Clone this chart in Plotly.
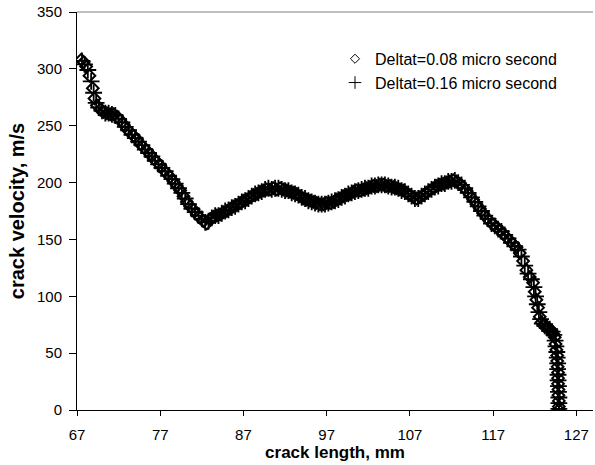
import plotly.graph_objects as go

# Series 1: Deltat = 0.08 micro second (open diamonds)
len_a = [67.5, 67.8, 68.1, 68.5, 68.9, 69.1, 69.4, 69.8, 70.2, 70.6, 71.0, 71.4, 71.8, 72.2, 72.6,
         73.0, 73.4, 73.8, 74.2, 74.6, 75.0, 75.4, 75.8, 76.2, 76.6, 77.0, 77.4, 77.8, 78.2, 78.6,
         79.0, 79.4, 79.8, 80.2, 80.6, 81.0, 81.4, 81.8, 82.2, 82.6, 83.0, 83.4, 83.8, 84.2, 84.6,
         85.0, 85.4, 85.8, 86.2, 86.6, 87.0, 87.4, 87.8, 88.2, 88.6, 89.0, 89.4, 89.8, 90.2, 90.6,
         91.0, 91.4, 91.8, 92.2, 92.6, 93.0, 93.4, 93.8, 94.2, 94.6, 95.0, 95.4, 95.8, 96.2, 96.6,
         97.0, 97.4, 97.8, 98.2, 98.6, 99.0, 99.4, 99.8, 100.2, 100.6, 101.0, 101.4, 101.8, 102.2, 102.6,
         103.0, 103.4, 103.8, 104.2, 104.6, 105.0, 105.4, 105.8, 106.2, 106.6, 107.0, 107.4, 107.8, 108.2, 108.6,
         109.0, 109.4, 109.8, 110.2, 110.6, 111.0, 111.4, 111.8, 112.2, 112.6, 113.0, 113.4, 113.8, 114.2, 114.6,
         115.0, 115.4, 115.8, 116.2, 116.6, 117.0, 117.4, 117.8, 118.2, 118.6, 119.0, 119.4, 119.8, 120.2, 120.6,
         121.0, 121.4, 121.8, 122.0, 122.2, 122.4, 122.6, 122.8, 123.1, 123.4, 123.7, 124.0, 124.2, 124.4, 124.5,
         124.6, 124.7, 124.7, 124.75, 124.8, 124.8, 124.8, 124.85, 124.85, 124.9, 124.9, 124.9]
vel_a = [308, 306, 302, 294, 283, 274, 268, 264, 262, 261, 260, 260, 258, 255, 251,
         247, 244, 241, 238, 234, 231, 228, 225, 221, 218, 215, 211, 208, 205, 201,
         197, 193, 188, 183, 179, 176, 172, 169, 166, 164, 168, 170, 171, 172, 174,
         175, 177, 179, 180, 182, 184, 185, 187, 189, 190, 192, 193, 194, 194, 195,
         194, 195, 194, 193, 192, 191, 190, 188, 186, 185, 184, 183, 182, 181, 181,
         182, 182, 183, 185, 186, 188, 189, 190, 192, 193, 193, 194, 195, 196, 197,
         197, 198, 198, 197, 197, 196, 195, 194, 193, 191, 189, 187, 186, 187, 189,
         191, 193, 195, 197, 198, 199, 200, 201, 202, 201, 199, 196, 193, 189, 185,
         181, 177, 173, 169, 166, 163, 161, 158, 155, 152, 149, 146, 143, 138, 131,
         123, 117, 112, 104, 97, 90, 82, 77, 74, 73, 72, 70, 67, 64, 58,
         53, 48, 43, 38, 33, 28, 23, 18, 13, 8, 3, 0]

# Series 2: Deltat = 0.16 micro second (plus signs)
len_b = [67.6, 67.9, 68.3, 68.7, 69.0, 69.3, 69.6, 70.0, 70.4, 70.8, 71.2, 71.6, 72.0, 72.4, 72.8,
         73.2, 73.6, 74.0, 74.4, 74.8, 75.2, 75.6, 76.0, 76.4, 76.8, 77.2, 77.6, 78.0, 78.4, 78.8,
         79.2, 79.6, 80.0, 80.4, 80.8, 81.2, 81.6, 82.0, 82.4, 82.8, 83.2, 83.6, 84.0, 84.4, 84.8,
         85.2, 85.6, 86.0, 86.4, 86.8, 87.2, 87.6, 88.0, 88.4, 88.8, 89.2, 89.6, 90.0, 90.4, 90.8,
         91.2, 91.6, 92.0, 92.4, 92.8, 93.2, 93.6, 94.0, 94.4, 94.8, 95.2, 95.6, 96.0, 96.4, 96.8,
         97.2, 97.6, 98.0, 98.4, 98.8, 99.2, 99.6, 100.0, 100.4, 100.8, 101.2, 101.6, 102.0, 102.4, 102.8,
         103.2, 103.6, 104.0, 104.4, 104.8, 105.2, 105.6, 106.0, 106.4, 106.8, 107.2, 107.6, 108.0, 108.4, 108.8,
         109.2, 109.6, 110.0, 110.4, 110.8, 111.2, 111.6, 112.0, 112.4, 112.8, 113.2, 113.6, 114.0, 114.4, 114.8,
         115.2, 115.6, 116.0, 116.4, 116.8, 117.2, 117.6, 118.0, 118.4, 118.8, 119.2, 119.6, 120.0, 120.4, 120.8,
         121.2, 121.6, 121.9, 122.1, 122.3, 122.5, 122.7, 122.9, 123.2, 123.5, 123.8, 124.1, 124.3, 124.45, 124.55,
         124.65, 124.7, 124.75, 124.75, 124.8, 124.8, 124.85, 124.85, 124.9, 124.9, 124.9]
vel_b = [307, 304, 299, 289, 279, 270, 266, 263, 261, 261, 260, 259, 256, 253, 249,
         246, 242, 239, 236, 233, 229, 226, 223, 219, 216, 213, 210, 206, 203, 199,
         195, 191, 186, 181, 177, 174, 171, 168, 165, 166, 169, 171, 171, 173, 175,
         176, 178, 179, 181, 183, 184, 186, 188, 190, 191, 192, 194, 195, 194, 195,
         195, 194, 193, 193, 191, 190, 189, 187, 186, 184, 183, 182, 181, 181, 181,
         182, 183, 184, 185, 187, 188, 190, 191, 192, 193, 194, 195, 195, 197, 197,
         198, 198, 198, 197, 196, 196, 195, 193, 192, 190, 188, 186, 186, 188, 190,
         192, 194, 196, 197, 199, 199, 201, 201, 202, 200, 198, 195, 191, 187, 183,
         179, 175, 171, 168, 164, 162, 159, 157, 154, 151, 147, 144, 141, 135, 127,
         120, 115, 108, 100, 93, 86, 80, 76, 74, 72, 71, 69, 66, 61, 56,
         51, 46, 41, 36, 31, 26, 21, 16, 11, 6, 1]

names = ["Deltat=0.08 micro second", "Deltat=0.16 micro second"]
x_ticks = [67, 77, 87, 97, 107, 117, 127]
y_ticks = [0, 50, 100, 150, 200, 250, 300, 350]

FONT = "Liberation Sans, Arial, sans-serif"

fig = go.Figure()
fig.add_trace(go.Scatter(
    x=len_a, y=vel_a, mode="markers", name=names[0], showlegend=False, legendgroup="a",
    marker=dict(symbol="diamond-open", size=9, color="black", line=dict(width=2, color="black")),
))
fig.add_trace(go.Scatter(
    x=len_b, y=vel_b, mode="markers", name=names[1], showlegend=False, legendgroup="b",
    marker=dict(symbol="cross-thin-open", size=12, color="black", line=dict(width=1.8, color="black")),
))
# legend entries with the small legend symbols of the original
fig.add_trace(go.Scatter(
    x=[None], y=[None], mode="markers", name=names[0], legendgroup="a",
    marker=dict(symbol="diamond-open", size=7, color="black", line=dict(width=1, color="black")),
))
fig.add_trace(go.Scatter(
    x=[None], y=[None], mode="markers", name=names[1], legendgroup="b",
    marker=dict(symbol="cross-thin-open", size=9, color="black", line=dict(width=1, color="black")),
))

fig.update_layout(
    width=595, height=465,
    margin=dict(l=77, r=2, t=12, b=55, pad=0),
    paper_bgcolor="white", plot_bgcolor="white",
    font=dict(family=FONT, color="black", size=15),
    showlegend=True,
    legend=dict(x=0.5, y=0.925, xanchor="left", yanchor="top",
                bgcolor="rgba(0,0,0,0)", font=dict(size=16, family=FONT),
                itemwidth=30, tracegroupgap=0),
    xaxis=dict(range=[67, 129], tickvals=x_ticks, ticktext=[str(v) for v in x_ticks],
               showgrid=False, zeroline=False, showline=True, linecolor="black", linewidth=1,
               ticks="outside", ticklen=5, tickcolor="black", tickwidth=1,
               ticklabelstandoff=6, tickfont=dict(size=15),
               title=dict(text="<b>crack length, mm</b>", font=dict(size=17), standoff=4)),
    yaxis=dict(range=[0, 350], tickvals=y_ticks, ticktext=[str(v) for v in y_ticks],
               showgrid=False, zeroline=False, showline=True, linecolor="black", linewidth=1,
               ticks="outside", ticklen=7, tickcolor="black", tickwidth=1,
               ticklabelstandoff=4, tickfont=dict(size=15),
               title=dict(text="<b>crack velocity, m/s</b>", font=dict(size=20), standoff=6)),
    shapes=[dict(type="line", xref="paper", yref="paper", x0=0, x1=1, y0=1, y1=1,
                 line=dict(color="#808080", width=1))],
)

fig.write_html("out.html")
